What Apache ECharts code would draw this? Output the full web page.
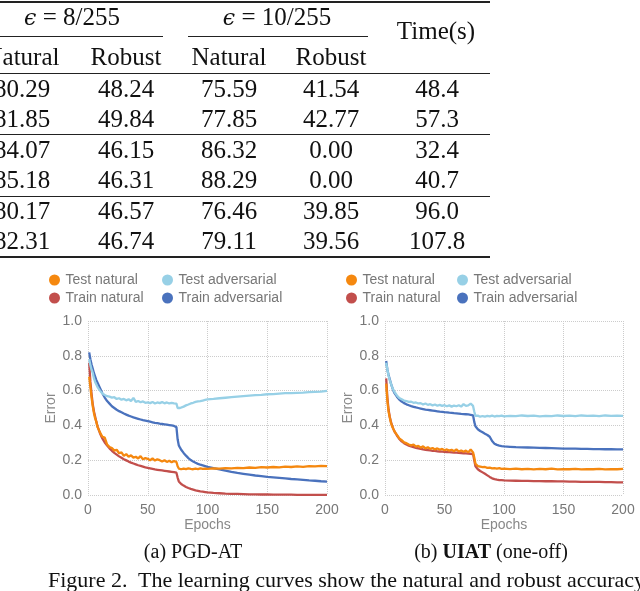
<!DOCTYPE html>
<html>
<head>
<meta charset="utf-8">
<script src="https://cdn.jsdelivr.net/npm/echarts@6.0.0/dist/echarts.min.js"></script>
<style>
  html, body { margin: 0; padding: 0; background: #fff; }
  #page { position: relative; width: 640px; height: 591px; overflow: hidden; background: #fff; }
  #chart { position: absolute; left: 0; top: 0; width: 640px; height: 591px; }
  .cell { position: absolute; width: 140px; text-align: center; font-family: "Liberation Serif", "Times New Roman", serif;
          font-size: 25px; line-height: 30px; color: #111; white-space: nowrap; }
  .rule { position: absolute; background: #222; }
  .cap { position: absolute; font-family: "Liberation Serif", "Times New Roman", serif; color: #111; white-space: nowrap; }
</style>
</head>
<body>
<div id="page">
  <div id="chart"></div>
</div>
<script>
// ---- table ----
var headEps = ['8/255', '10/255'];
var headCols = ['Natural', 'Robust', 'Natural', 'Robust'];
var tableRows = [
  ['80.29', '48.24', '75.59', '41.54', '48.4'],
  ['81.85', '49.84', '77.85', '42.77', '57.3'],
  ['84.07', '46.15', '86.32', '0.00', '32.4'],
  ['85.18', '46.31', '88.29', '0.00', '40.7'],
  ['80.17', '46.57', '76.46', '39.85', '96.0'],
  ['82.31', '46.74', '79.11', '39.56', '107.8']
];

// ---- learning curves ----
var epochs = [1, 2, 3, 4, 5, 6, 7, 8, 10, 12, 14, 16, 18, 20, 22, 24, 26, 28, 30, 32, 34, 36, 38, 40,
  42, 44, 46, 48, 50, 52, 54, 56, 58, 60, 62, 64, 66, 68, 70, 72, 74, 75, 76, 77, 78, 80, 82, 84, 86,
  88, 90, 92, 94, 96, 98, 100, 105, 110, 115, 120, 125, 130, 135, 140, 145, 150, 155, 160, 165, 170,
  175, 180, 185, 190, 195, 200];

// (a) PGD-AT
var aTestNat = [.68, .62, .56, .51, .47, .44, .42, .39, .36, .335, .33, .29, .275, .27, .255, .26, .24,
  .245, .225, .235, .22, .228, .215, .22, .21, .223, .205, .212, .208, .2, .21, .198, .205, .2, .193, .2,
  .19, .197, .188, .195, .19, .165, .152, .15, .148, .152, .149, .153, .15, .148, .151, .149, .153, .15,
  .152, .15, .153, .151, .155, .153, .156, .154, .158, .156, .16, .158, .161, .159, .163, .161, .164,
  .162, .166, .164, .167, .166];
var aTestAdv = [.78, .745, .72, .70, .67, .65, .635, .62, .60, .583, .575, .568, .565, .56, .562, .552,
  .556, .548, .552, .544, .55, .54, .558, .535, .54, .533, .538, .53, .532, .528, .535, .526, .532, .528,
  .534, .527, .532, .526, .53, .527, .525, .5, .498, .5, .503, .508, .515, .52, .526, .53, .535, .538,
  .54, .543, .546, .549, .552, .556, .559, .562, .565, .568, .571, .574, .576, .579, .58, .583, .585,
  .586, .587, .588, .591, .593, .594, .598];
var aTrainNat = [.76, .65, .58, .52, .48, .45, .42, .395, .355, .325, .302, .285, .268, .254, .242, .232,
  .222, .214, .206, .199, .192, .186, .181, .176, .171, .167, .163, .159, .156, .153, .15, .147, .145,
  .143, .141, .139, .137, .135, .133, .131, .128, .10, .078, .07, .063, .054, .046, .04, .035, .031,
  .027, .024, .021, .019, .017, .015, .012, .01, .008, .007, .006, .005, .004, .004, .003, .003, .002,
  .002, .002, .002, .001, .001, .001, .001, .001, .001];
var aTrainAdv = [.82, .78, .75, .725, .70, .68, .66, .645, .615, .585, .56, .54, .525, .51, .50, .49,
  .482, .475, .468, .462, .456, .451, .446, .442, .438, .434, .43, .427, .424, .421, .418, .415, .413,
  .41, .408, .406, .404, .402, .40, .397, .39, .32, .285, .272, .26, .242, .226, .212, .201, .192, .185,
  .179, .174, .17, .166, .162, .154, .147, .14, .133, .127, .122, .117, .112, .108, .104, .101, .098,
  .095, .092, .09, .087, .084, .082, .079, .077];

// (b) UIAT (one-off)
var bTestNat = [.64, .54, .48, .445, .415, .395, .38, .365, .345, .325, .315, .302, .298, .29, .285, .29,
  .278, .282, .272, .28, .268, .274, .265, .27, .262, .268, .26, .265, .257, .262, .255, .26, .252, .262,
  .25, .256, .248, .255, .245, .262, .245, .215, .18, .172, .166, .163, .16, .161, .156, .157, .153,
  .155, .152, .154, .15, .152, .149, .151, .148, .15, .147, .15, .148, .151, .147, .149, .148, .15,
  .147, .149, .148, .15, .147, .149, .148, .15];
var bTestAdv = [.76, .72, .685, .66, .64, .62, .605, .592, .572, .557, .55, .543, .54, .535, .536, .53,
  .532, .526, .528, .52, .526, .518, .522, .515, .52, .513, .518, .512, .516, .51, .515, .508, .514, .51,
  .516, .508, .522, .512, .515, .525, .512, .48, .455, .452, .456, .45, .454, .451, .455, .452, .456,
  .451, .455, .453, .456, .452, .455, .453, .457, .454, .456, .452, .455, .453, .457, .454, .456, .453,
  .457, .455, .456, .453, .457, .455, .456, .455];
var bTrainNat = [.67, .56, .49, .45, .42, .398, .38, .365, .342, .322, .308, .298, .29, .284, .279, .275,
  .271, .268, .265, .262, .26, .258, .256, .254, .253, .251, .25, .249, .248, .247, .246, .245, .244,
  .243, .242, .241, .24, .239, .238, .237, .235, .2, .165, .155, .148, .138, .13, .122, .113, .104, .096,
  .091, .088, .086, .085, .084, .083, .082, .081, .081, .08, .08, .079, .079, .078, .078, .077, .077,
  .076, .076, .075, .075, .074, .074, .073, .073];
var bTrainAdv = [.77, .72, .69, .665, .64, .62, .60, .585, .565, .548, .537, .528, .521, .516, .511, .507,
  .503, .5, .497, .494, .491, .489, .487, .485, .483, .481, .479, .478, .476, .475, .473, .472, .47, .469,
  .468, .466, .465, .464, .463, .461, .458, .42, .395, .385, .378, .368, .36, .352, .345, .335, .31,
  .295, .288, .284, .281, .279, .277, .275, .274, .273, .272, .271, .27, .269, .268, .267, .267, .266,
  .265, .265, .264, .264, .263, .263, .262, .262];

var page = document.getElementById('page');

function addCell(txt, cx, cy) {
  var d = document.createElement('div');
  d.className = 'cell';
  d.style.left = (cx - 70) + 'px';
  d.style.top = (cy - 15) + 'px';
  d.innerHTML = txt;
  page.appendChild(d);
  return d;
}
function addRule(x, y, w, h) {
  var r = document.createElement('div');
  r.className = 'rule';
  r.style.left = x + 'px'; r.style.top = y + 'px';
  r.style.width = w + 'px'; r.style.height = h + 'px';
  page.appendChild(r);
}

var colX = [22, 126, 229, 331, 437];
var rowY = [89, 119, 150, 180, 211, 241];
var eps = '<i style="font-family:\'DejaVu Serif\',serif;font-size:22px">&#1013;</i> = ';

addRule(0, 1, 490, 1.6);
addCell(eps + headEps[0], 72, 17);
addCell(eps + headEps[1], 277, 17);
addRule(0, 36, 163, 1);
addRule(188, 36, 180, 1);
addCell('Time(s)', 436, 31);
for (var c = 0; c < headCols.length; c++) addCell(headCols[c], colX[c], 57);
addRule(0, 73, 490, 1);
for (var r = 0; r < tableRows.length; r++) {
  for (var c2 = 0; c2 < tableRows[r].length; c2++) addCell(tableRows[r][c2], colX[c2], rowY[r]);
}
addRule(0, 134, 490, 1);
addRule(0, 196, 490, 1);
addRule(0, 256, 490, 1.6);

function addCap(html, x, cy, size, center) {
  var d = document.createElement('div');
  d.className = 'cap';
  d.style.fontSize = size + 'px';
  d.style.lineHeight = (size + 4) + 'px';
  d.style.top = (cy - (size + 4) / 2) + 'px';
  if (center) { d.style.left = (x - 150) + 'px'; d.style.width = '300px'; d.style.textAlign = 'center'; }
  else d.style.left = x + 'px';
  d.innerHTML = html;
  page.appendChild(d);
}
addCap('(a) PGD-AT', 193, 551, 20, true);
addCap('(b) <b>UIAT</b> (one-off)', 491, 551, 20, true);
addCap('Figure 2.&nbsp; The learning curves show the natural and robust accuracy', 48, 580, 22, false);

// ---- charts ----
var font = '"Liberation Sans", Arial, sans-serif';
var gray = '#777';
var colors = { testNat: '#f5880f', testAdv: '#97d0e6', trainNat: '#c24f4c', trainAdv: '#4a72bd' };

function pairs(ys) {
  return epochs.map(function (e, i) { return [e, ys[i]]; });
}
function xAx(idx) {
  return {
    gridIndex: idx, type: 'value', min: 0, max: 200, interval: 50,
    axisLine: { show: false }, axisTick: { show: false },
    axisLabel: { color: gray, fontSize: 14, fontFamily: font, margin: 8 },
    splitLine: { show: true, lineStyle: { type: 'dotted', color: '#cccccc', width: 1 } },
    name: 'Epochs', nameLocation: 'middle', nameGap: 23,
    nameTextStyle: { color: '#888', fontSize: 14, fontFamily: font }
  };
}
function yAx(idx) {
  return {
    gridIndex: idx, type: 'value', min: 0, max: 1, interval: 0.2,
    axisLine: { show: false }, axisTick: { show: false },
    axisLabel: { color: gray, fontSize: 14, fontFamily: font, margin: 6,
      formatter: function (v) { return v.toFixed(1); } },
    splitLine: { show: true, lineStyle: { type: 'dotted', color: '#cccccc', width: 1 } },
    name: 'Error', nameLocation: 'middle', nameGap: 28,
    nameTextStyle: { color: '#888', fontSize: 14, fontFamily: font }
  };
}
function line(name, idx, ys, color) {
  return {
    name: name, type: 'line', xAxisIndex: idx, yAxisIndex: idx, data: pairs(ys),
    showSymbol: false, symbol: 'none', silent: true,
    lineStyle: { color: color, width: 2.3 }, itemStyle: { color: color }
  };
}
function legend(left, names) {
  return {
    left: left, top: 273, orient: 'vertical', padding: 0, itemGap: 4,
    itemWidth: 12, itemHeight: 11, icon: 'circle', selectedMode: false,
    textStyle: { color: gray, fontSize: 14, fontFamily: font },
    data: names
  };
}

var chart = echarts.init(document.getElementById('chart'), null, { renderer: 'canvas' });
chart.setOption({
  animation: false,
  backgroundColor: 'transparent',
  grid: [
    { left: 88, top: 321, width: 239, height: 174 },
    { left: 385, top: 321, width: 238, height: 174 }
  ],
  xAxis: [xAx(0), xAx(1)],
  yAxis: [yAx(0), yAx(1)],
  legend: [
    legend(49, ['Test natural', 'Train natural']),
    legend(162, ['Test adversarial', 'Train adversarial']),
    legend(346, ['Test natural', 'Train natural']),
    legend(457, ['Test adversarial', 'Train adversarial'])
  ],
  series: [
    line('Train natural', 0, aTrainNat, colors.trainNat),
    line('Train adversarial', 0, aTrainAdv, colors.trainAdv),
    line('Test natural', 0, aTestNat, colors.testNat),
    line('Test adversarial', 0, aTestAdv, colors.testAdv),
    line('Train natural', 1, bTrainNat, colors.trainNat),
    line('Train adversarial', 1, bTrainAdv, colors.trainAdv),
    line('Test natural', 1, bTestNat, colors.testNat),
    line('Test adversarial', 1, bTestAdv, colors.testAdv)
  ]
});
</script>
</body>
</html>
